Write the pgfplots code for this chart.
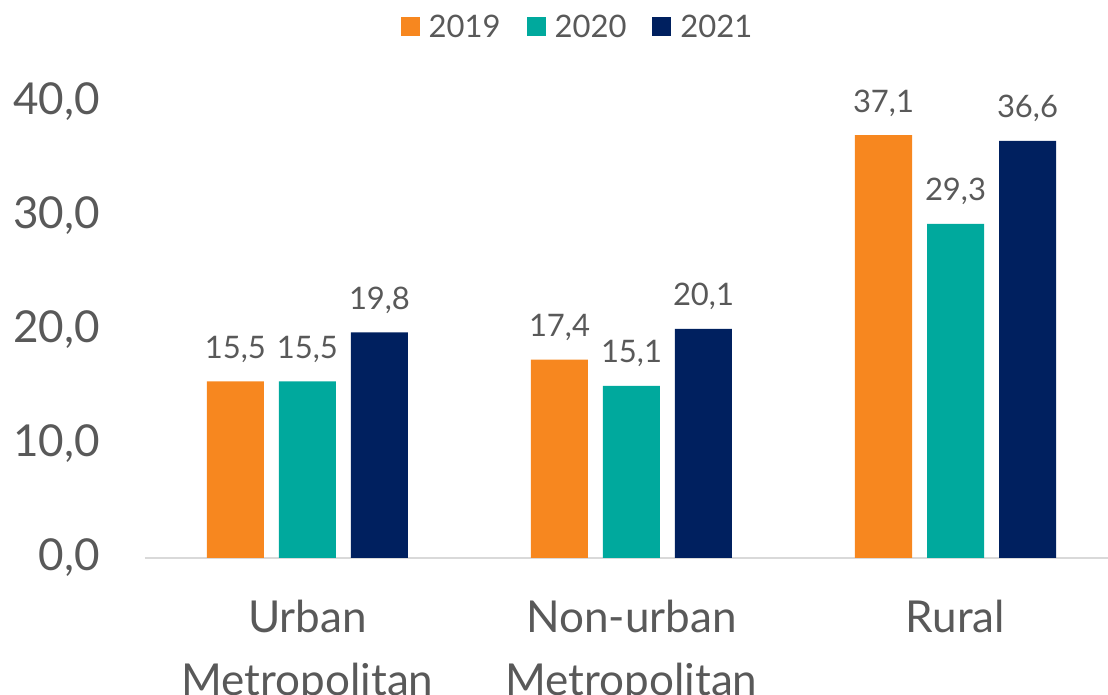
\documentclass[border=0pt]{standalone}
\usepackage{fontspec}
\setmainfont{Lato}
\usepackage{pgfplots}
\pgfplotsset{compat=1.18}
\definecolor{corange}{HTML}{F7871F}
\definecolor{cteal}{HTML}{00A99D}
\definecolor{cnavy}{HTML}{00205F}
\definecolor{ctext}{HTML}{595959}
\definecolor{cline}{HTML}{D9D9D9}
\begin{document}
\begin{tikzpicture}
\path[use as bounding box] (-145pt,-137pt) rectangle (963pt,558pt);
\begin{axis}[
  at={(0pt,0pt)}, anchor=south west,
  scale only axis, width=963pt, height=456pt,
  xmin=-0.5015, xmax=2.4707, ymin=0, ymax=40,
  ybar, bar width=57pt,
  axis x line*=bottom, axis y line*=left,
  y axis line style={draw=none},
  x axis line style={draw=cline, line width=2pt},
  xtick={0,1,2},
  xticklabels={{Urban\\Metropolitan},{Non-urban\\Metropolitan},{Rural\\\mbox{}}},
  ytick={0,10,20,30,40},
  major tick length=0pt,
  tick style={draw=none},
  yticklabel={\pgfmathprintnumber[fixed,fixed zerofill,precision=1,use comma,assume math mode=true]{\tick}},
  yticklabel style={anchor=east, inner sep=0pt, xshift=-45pt, font=\fontsize{44}{48}\selectfont, text=ctext},
  xticklabel style={anchor=base, inner sep=0pt, align=center, yshift=-137pt, font=\fontsize{44}{63}\selectfont, text=ctext},
  nodes near coords={\pgfmathprintnumber[fixed,fixed zerofill,precision=1,use comma,assume math mode=true]{\pgfplotspointmeta}},
  nodes near coords style={anchor=base, inner sep=0pt, yshift=23pt, font=\fontsize{31}{36}\selectfont, text=ctext},
  legend columns=-1,
  legend style={at={(rel axis cs:0.4481,1.1908)}, anchor=north, draw=none, fill=none, inner sep=0pt, outer sep=0pt,
    nodes={inner sep=0pt, text=ctext, font=\fontsize{31}{36}\selectfont},
    /tikz/every odd column/.append style={column sep=9pt},
    /tikz/every even column/.append style={column sep=26pt}},
  legend image code/.code={\fill[#1] (0pt,-9.5pt) rectangle (19pt,9.5pt);},
  clip=false,
]
\addplot[fill=corange, draw=none, bar shift=-72pt] coordinates {(0,15.5) (1,17.4) (2,37.1)};
\addplot[fill=cteal, draw=none, bar shift=0pt] coordinates {(0,15.5) (1,15.1) (2,29.3)};
\addplot[fill=cnavy, draw=none, bar shift=72pt] coordinates {(0,19.8) (1,20.1) (2,36.6)};
\legend{2019,2020,2021}
\end{axis}
\end{tikzpicture}
\end{document}
